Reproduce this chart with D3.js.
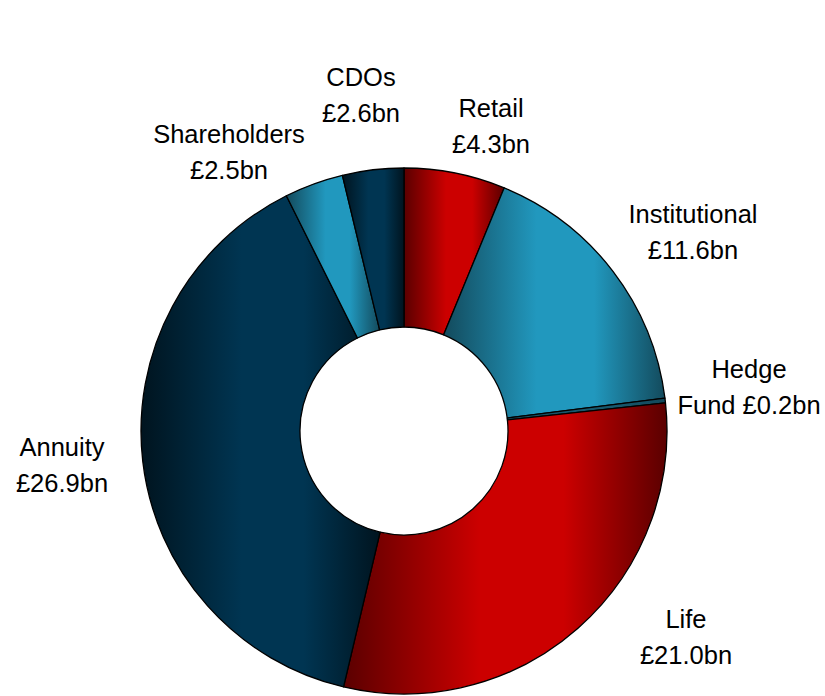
<!DOCTYPE html>
<html>
<head>
<meta charset="utf-8">
<script src="https://cdn.jsdelivr.net/npm/d3@7"></script>
<style>
  html, body { margin: 0; padding: 0; background: #ffffff; }
  svg { display: block; }
  .lbl { font-family: "Liberation Sans", Arial, sans-serif; font-size: 25.5px; fill: #000; }
</style>
</head>
<body>
<svg id="chart" width="825" height="696"></svg>
<script>
// Assets by type, £bn
const categories = ["Retail", "Institutional", "Hedge Fund", "Life", "Annuity", "Shareholders", "CDOs"];
const values = [4.3, 11.6, 0.2, 21.0, 26.9, 2.5, 2.6];

// Fill family for each slice
const sliceShade = ["red", "teal", "tealDeep", "red", "navy", "teal", "navy"];
const shades = {
  red:      { dark: "#5a0000", bright: "#cc0000" },
  teal:     { dark: "#134a5c", bright: "#2198be" },
  tealDeep: { dark: "#12485a", bright: "#17596e" },
  navy:     { dark: "#00141f", bright: "#003552" }
};

// Label layout: words on first line, and first-baseline anchor
const firstLineWords = [1, 1, 1, 1, 1, 1, 1];
const labelPos = [[491, 117], [693, 223], [749, 378], [686, 628], [62, 456], [229, 143], [361, 86]];

const svg = d3.select("#chart");
const cx = 404, cy = 431, outerR = 263, innerR = 104;

const defs = svg.append("defs");
Object.entries(shades).forEach(([key, c]) => {
  const g = defs.append("linearGradient")
    .attr("id", "grad-" + key)
    .attr("x1", 0).attr("y1", 0).attr("x2", 1).attr("y2", 0);
  g.append("stop").attr("offset", "0%").attr("stop-color", c.dark);
  g.append("stop").attr("offset", "42%").attr("stop-color", c.bright);
  g.append("stop").attr("offset", "68%").attr("stop-color", c.bright);
  g.append("stop").attr("offset", "100%").attr("stop-color", c.dark);
});

const data = categories.map((name, i) => ({ name, value: values[i], i }));

const pie = d3.pie().sort(null).value(d => d.value)
  .startAngle(0).endAngle(2 * Math.PI);
const arc = d3.arc().innerRadius(innerR).outerRadius(outerR);

const g = svg.append("g").attr("transform", `translate(${cx},${cy})`);
g.selectAll("path.slice")
  .data(pie(data))
  .join("path")
  .attr("class", "slice")
  .attr("d", arc)
  .attr("fill", d => `url(#grad-${sliceShade[d.data.i]})`)
  .attr("stroke", "#000")
  .attr("stroke-width", 1.3)
  .attr("stroke-linejoin", "round");

// Data labels: name and value
const labels = svg.append("g");
data.forEach((d, i) => {
  const words = `${d.name} £${d.value.toFixed(1)}bn`.split(" ");
  const lines = [words.slice(0, firstLineWords[i]).join(" "), words.slice(firstLineWords[i]).join(" ")];
  const t = labels.append("text")
    .attr("class", "lbl")
    .attr("text-anchor", "middle")
    .attr("x", labelPos[i][0])
    .attr("y", labelPos[i][1]);
  lines.forEach((ln, k) => {
    t.append("tspan")
      .attr("x", labelPos[i][0])
      .attr("dy", k === 0 ? 0 : 35.5)
      .text(ln);
  });
});
</script>
</body>
</html>
